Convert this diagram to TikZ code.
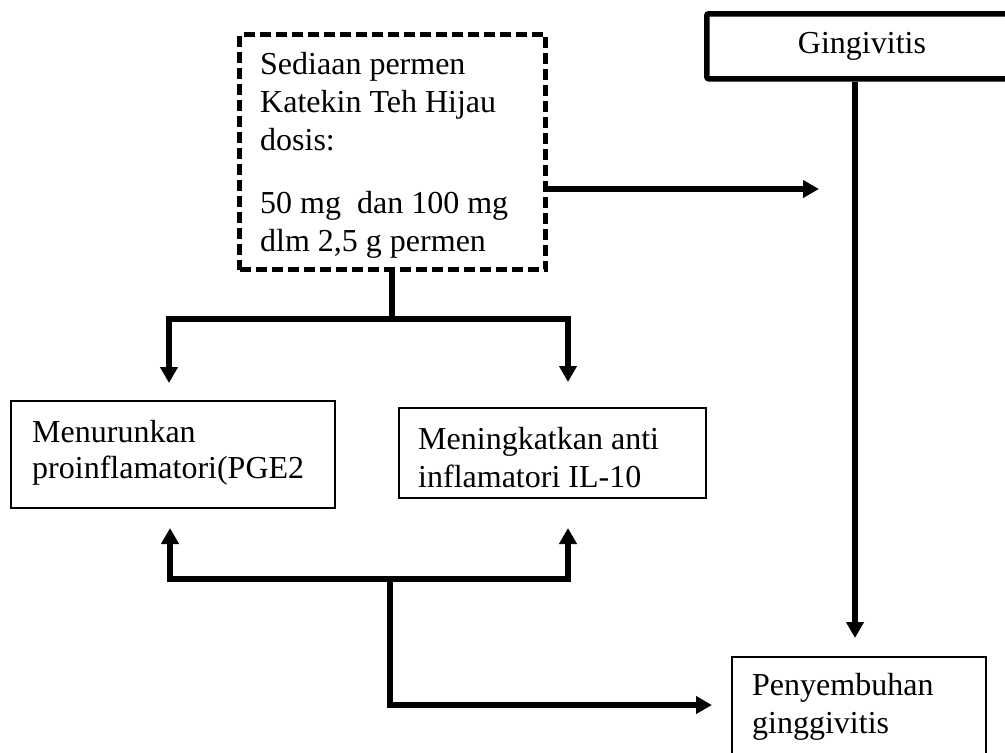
\documentclass[tikz,border=0pt]{standalone}
\usepackage{fontspec}
\setmainfont{Liberation Serif}
\usetikzlibrary{arrows.meta}
\begin{document}
\begin{tikzpicture}[x=1pt,y=-1pt,
  conn/.style={line width=5.5pt},
  arr/.style={line width=5.5pt,-{Triangle[width=17pt,length=16pt]}},
  thinbox/.style={draw,line width=1.6pt,anchor=north west,inner sep=0pt},
  txt/.style={anchor=base west,inner sep=0pt,font=\fontsize{32}{38}\selectfont}]
\useasboundingbox (0,0) rectangle (1005,753);

% boxes
\node[draw,line width=5pt,dash pattern=on 11pt off 5pt,anchor=north west,inner sep=0pt,
      minimum width=306pt,minimum height=235pt] (dosis) at (237,32) {};
\node[draw,line width=5.5pt,rounded corners=2pt,anchor=north west,inner sep=0pt,
      minimum width=306pt,minimum height=65pt] (ging) at (704,11) {};
\node[thinbox,minimum width=324pt,minimum height=107pt] (menu) at (10,400) {};
\node[thinbox,minimum width=307pt,minimum height=90pt] (mening) at (398,407) {};
\node[thinbox,minimum width=254pt,minimum height=130pt] (peny) at (731,656) {};

% texts
\node[txt] (tdosis) at (260,74) {\vtop{\hbox{Sediaan permen}\hbox{Katekin Teh Hijau}\hbox{dosis:}\vskip25pt\hbox{50 mg\ \ dan 100 mg}\hbox{dlm 2,5 g permen}}};
\node[txt,anchor=base] (tging) at (862,53) {Gingivitis};
\node[txt,font=\fontsize{32}{36}\selectfont] (tmenu) at (32,442) {\vtop{\hbox{Menurunkan}\hbox{proinflamatori(PGE2}}};
\node[txt] (tmening) at (418,449) {\vtop{\hbox{Meningkatkan anti}\hbox{inflamatori IL-10}}};
\node[txt] (tpeny) at (752,695) {\vtop{\hbox{Penyembuhan}\hbox{ginggivitis}}};

% connector points
\coordinate (j1) at (392,319);
\coordinate (tipL) at (169,383);
\coordinate (tipR) at (568,382);
\coordinate (tipG) at (819,189);
\coordinate (tipP) at (855,638);
\coordinate (b1) at (390,579);
\coordinate (upL) at (170,528);
\coordinate (upR) at (568,528);
\coordinate (tipB) at (712,705);

% connectors
\draw[conn] (dosis.south -| j1) -- (j1);
\draw[arr] (j1) -| (tipL);
\draw[arr] (j1) -| (tipR);
\draw[arr] (dosis.east |- tipG) -- (tipG);
\draw[arr] (ging.south -| tipP) -- (tipP);
\draw[arr] (b1) -| (upL);
\draw[arr] (b1) -| (upR);
\draw[arr] (b1) |- (tipB);
\end{tikzpicture}
\end{document}
